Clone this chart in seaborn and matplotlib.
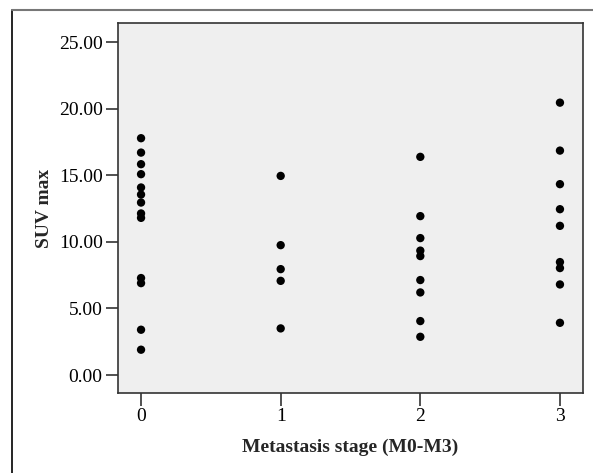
import matplotlib
matplotlib.use("Agg")
import matplotlib.pyplot as plt
import seaborn as sns
import pandas as pd
from matplotlib.lines import Line2D

stage0 = [17.78, 16.7, 15.83, 15.08, 14.08, 13.55, 12.95, 12.13, 11.8, 7.28, 6.9, 3.4, 1.9]
stage1 = [14.95, 9.75, 7.95, 7.07, 3.5]
stage2 = [16.38, 11.93, 10.28, 9.34, 8.93, 7.13, 6.2, 4.05, 2.87]
stage3 = [20.45, 16.85, 14.33, 12.45, 11.2, 8.48, 8.03, 6.8, 3.92]
stages = [0, 1, 2, 3]
y_ticks = [0, 5, 10, 15, 20, 25]
y_tick_labels = ["0.00", "5.00", "10.00", "15.00", "20.00", "25.00"]

df = pd.DataFrame({
    "stage": [0] * len(stage0) + [1] * len(stage1) + [2] * len(stage2) + [3] * len(stage3),
    "suv": stage0 + stage1 + stage2 + stage3,
})

sns.set_theme(style="ticks")
plt.rcParams["font.family"] = ["Liberation Serif", "DejaVu Serif"]

fig = plt.figure(figsize=(5.93, 4.73), dpi=100)
ax = fig.add_axes([118 / 593, 1 - 393 / 473, (583 - 118) / 593, (393 - 23) / 473])
ax.set_facecolor("#efefef")

sns.scatterplot(data=df, x="stage", y="suv", ax=ax, color="black", s=36,
                edgecolor="none", linewidth=0, legend=False)

ax.set_xlim(-0.165, 3.165)
ax.set_ylim(-1.35, 26.43)
ax.set_xticks(stages)
ax.set_xticklabels([str(s) for s in stages])
ax.set_yticks(y_ticks)
ax.set_yticklabels(y_tick_labels)
ax.tick_params(axis="both", direction="out", length=9, width=1.2, color="#333333",
               labelsize=14, labelcolor="black", pad=2)
for sp in ax.spines.values():
    sp.set_visible(True)
    sp.set_color("#333333")
    sp.set_linewidth(1.2)

ax.set_xlabel("Metastasis stage (M0-M3)", fontsize=14, fontweight="bold", labelpad=10)
ax.set_ylabel("SUV max", fontsize=14, fontweight="bold", labelpad=4)

# outer frame
fig.add_artist(Line2D([12 / 593, 12 / 593], [0, 1 - 10 / 473], color="black", lw=1.2,
                      transform=fig.transFigure))
fig.add_artist(Line2D([12 / 593, 1], [1 - 10 / 473, 1 - 10 / 473], color="#777777", lw=1.5,
                      transform=fig.transFigure))

fig.savefig("out.png", dpi=100)
